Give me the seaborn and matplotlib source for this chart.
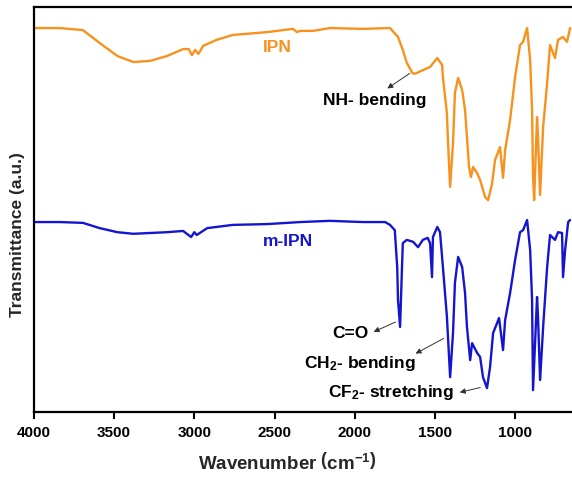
import numpy as np
import pandas as pd
import matplotlib
matplotlib.use("Agg")
import matplotlib.pyplot as plt
import seaborn as sns

# IPN spectrum (wavenumber cm-1, transmittance a.u.)
ipn_wn = [4000, 3840, 3695, 3590, 3480, 3380, 3275, 3170, 3070, 3035,
          3015, 2995, 2975, 2945, 2860, 2760, 2545, 2385, 2360, 2340,
          2260, 2155, 1950, 1780, 1730, 1700, 1675, 1640, 1625, 1575,
          1530, 1485, 1455, 1450, 1425, 1418, 1405, 1387, 1375, 1355,
          1330, 1312, 1300, 1287, 1275, 1262, 1237, 1218, 1187, 1168,
          1143, 1125, 1094, 1075, 1062, 1031, 1000, 969, 950, 925,
          906, 894, 888, 881, 863, 857, 844, 825, 800, 782,
          751, 732, 701, 676, 657]
ipn_t = [94.8, 94.8, 94.3, 91.1, 87.9, 86.4, 86.7, 87.9, 89.6, 89.6,
         88.1, 89.4, 88.4, 90.4, 91.9, 93.1, 93.8, 94.6, 93.8, 94.1,
         94.1, 94.8, 94.6, 94.8, 92.6, 89.4, 86.2, 83.7, 83.5, 84.4,
         85.2, 87.4, 85.7, 82.7, 73.8, 66.4, 55.6, 66.4, 78.8, 82.5,
         79.5, 74.6, 67.9, 60.5, 58.0, 60.5, 59.0, 57.3, 53.1, 52.3,
         56.5, 62.2, 65.4, 57.8, 64.7, 72.1, 82.7, 90.6, 91.4, 94.8,
         86.9, 74.6, 58.0, 52.3, 72.8, 67.9, 53.6, 70.4, 81.2, 90.6,
         87.4, 91.9, 92.6, 91.4, 94.8]

# m-IPN spectrum
mipn_wn = [4000, 3840, 3695, 3590, 3480, 3380, 3275, 3170, 3070, 3020,
           3000, 2985, 2920, 2760, 2545, 2340, 2155, 1950, 1810, 1780,
           1750, 1735, 1730, 1717, 1705, 1700, 1675, 1635, 1605, 1575,
           1545, 1530, 1518, 1512, 1485, 1468, 1450, 1425, 1405, 1387,
           1375, 1355, 1330, 1312, 1300, 1280, 1268, 1237, 1218, 1200,
           1175, 1156, 1137, 1100, 1075, 1062, 1031, 1000, 969, 950,
           925, 906, 894, 888, 863, 857, 844, 825, 800, 782,
           751, 732, 707, 701, 688, 669, 657]
mipn_t = [46.9, 46.9, 46.7, 45.4, 44.4, 44.0, 44.2, 44.4, 44.7, 43.2,
          44.4, 43.7, 45.4, 46.2, 46.4, 46.9, 47.2, 46.9, 46.9, 46.2,
          44.9, 35.8, 27.7, 21.0, 35.8, 41.7, 42.5, 42.0, 40.7, 42.5,
          43.0, 41.7, 33.3, 43.2, 45.7, 44.4, 35.8, 23.5, 8.6, 19.5,
          31.9, 38.3, 35.8, 29.4, 21.0, 12.8, 17.0, 14.6, 13.6, 8.6,
          5.9, 11.1, 19.5, 23.2, 15.3, 22.7, 29.4, 37.5, 44.4, 44.9,
          47.4, 40.0, 27.7, 5.4, 28.4, 23.5, 7.9, 21.0, 35.8, 43.7,
          42.5, 44.4, 44.2, 33.3, 40.0, 46.9, 47.4]

x_ticks = [4000, 3500, 3000, 2500, 2000, 1500, 1000]

sns.set_theme(style="ticks")
plt.rcParams['font.family'] = ['Liberation Sans', 'DejaVu Sans']
plt.rcParams['mathtext.fontset'] = 'custom'
plt.rcParams['mathtext.rm'] = 'Liberation Sans:bold'
plt.rcParams['mathtext.bf'] = 'Liberation Sans:bold'
plt.rcParams['mathtext.default'] = 'bf'

ipn = pd.DataFrame({'wn': ipn_wn, 't': ipn_t})
mipn = pd.DataFrame({'wn': mipn_wn, 't': mipn_t})

orange = '#F7921E'
blue = '#1515CF'

fig = plt.figure(figsize=(5.72, 4.82), dpi=100)
ax = fig.add_axes([0.0594, 0.1452, 0.9406, 0.8403])

sns.lineplot(data=ipn, x='wn', y='t', color=orange, linewidth=1.7, estimator=None, ax=ax)
sns.lineplot(data=mipn, x='wn', y='t', color=blue, linewidth=1.7, estimator=None, ax=ax)

ax.set_xlim(4000, 645)
ax.set_ylim(0, 100)
ax.set_xticks(x_ticks)
ax.set_xticklabels([str(t) for t in x_ticks], fontsize=11, fontweight='bold')
ax.set_yticks([])
ax.tick_params(axis='x', direction='out', length=5, width=1.5, pad=5, colors='black')

for s in ['left', 'bottom', 'top']:
    ax.spines[s].set_linewidth(1.6)
    ax.spines[s].set_color('black')
ax.spines['right'].set_visible(False)

ax.set_xlabel("Wavenumber $\\left(\\mathbf{cm}^{-1}\\right)$", fontsize=13.5, fontweight='bold')
ax.set_ylabel("Transmittance (a.u.)", fontsize=12.5, fontweight='bold')
ax.xaxis.set_label_coords(0.47, -0.098)
ax.yaxis.set_label_coords(-0.016, 0.437)

ax.text(2484, 90.1, "IPN", color=orange, fontsize=12.5, fontweight='bold', ha='center', va='center')
ax.text(2416, 42.2, "m-IPN", color=blue, fontsize=12.5, fontweight='bold', ha='center', va='center')

labels = ["NH- bending", "C=O", "CH$_2$- bending", "CF$_2$- stretching"]
label_pos = [(1873, 77.0), (2029, 19.5), (1967, 12.1), (1773, 4.9)]
arrow_tail = [(1642, 84.0), (1730, 22.5), (1430, 18.5), (1200, 6.2)]
arrow_tip = [(1811, 79.5), (1898, 19.5), (1636, 14.1), (1362, 4.7)]

for lab, pos, tail, tip in zip(labels, label_pos, arrow_tail, arrow_tip):
    ax.text(pos[0], pos[1], lab, fontsize=12.5, fontweight='bold', ha='center', va='center', color='black')
    ax.annotate('', xy=tip, xytext=tail,
                arrowprops=dict(arrowstyle='-|>', color='#333333', lw=0.7, mutation_scale=8))

fig.savefig('out.png', dpi=100)
